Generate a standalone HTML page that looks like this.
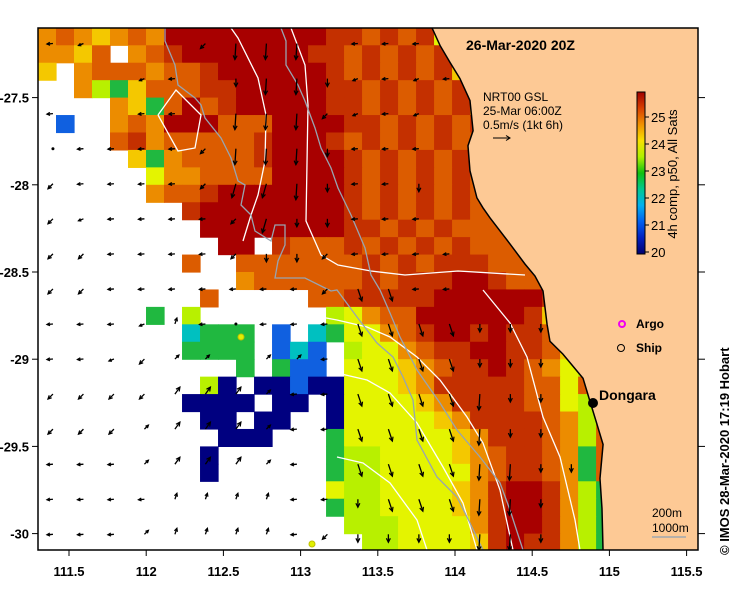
<!DOCTYPE html>
<html><head><meta charset="utf-8"><style>
html,body{margin:0;padding:0;background:#fff;}
svg{display:block;font-family:"Liberation Sans",sans-serif;}
</style></head><body>
<svg id="map" width="739" height="592" viewBox="0 0 739 592" xmlns="http://www.w3.org/2000/svg">
<defs>
<clipPath id="plotClip"><rect x="38" y="28" width="660" height="522"/></clipPath>
<linearGradient id="cbGrad" x1="0" y1="1" x2="0" y2="0">
<stop offset="0" stop-color="#000070"/><stop offset="0.1" stop-color="#0020c0"/><stop offset="0.2" stop-color="#0060f0"/>
<stop offset="0.3" stop-color="#00b0f0"/><stop offset="0.4" stop-color="#00c890"/><stop offset="0.5" stop-color="#10c010"/>
<stop offset="0.6" stop-color="#b0f000"/><stop offset="0.7" stop-color="#f8e000"/><stop offset="0.8" stop-color="#f09000"/>
<stop offset="0.9" stop-color="#d84000"/><stop offset="1" stop-color="#a00000"/>
</linearGradient>
</defs>
<g id="cells" clip-path="url(#plotClip)"></g>
<g id="contours" clip-path="url(#plotClip)"></g>
<g id="arrows" clip-path="url(#plotClip)"></g>
<g id="land" clip-path="url(#plotClip)"></g>
<g id="axes"></g>
<text x="466" y="50" font-size="14" font-weight="bold">26-Mar-2020 20Z</text>
<g font-size="12">
<text x="483" y="101">NRT00 GSL</text>
<text x="483" y="115">25-Mar 06:00Z</text>
<text x="483" y="129">0.5m/s (1kt 6h)</text>
<line x1="493" y1="138" x2="509" y2="138" stroke="#000" stroke-width="1"/>
<path d="M506,135.5 L510,138 L506,140.5" fill="none" stroke="#000"/>
</g>
<g>
<rect x="637" y="92" width="8" height="162" fill="url(#cbGrad)" stroke="#000" stroke-width="1"/>
<g id="cbTicks" font-size="13"></g>
<text transform="translate(677,174) rotate(-90)" text-anchor="middle" font-size="13">4h comp, p50, All Sats</text>
</g>
<g font-size="12" font-weight="bold">
<circle cx="622" cy="324" r="3" fill="none" stroke="#f000f0" stroke-width="2"/>
<text x="636" y="328">Argo</text>
<circle cx="621" cy="348" r="3.5" fill="none" stroke="#000" stroke-width="1"/>
<text x="636" y="352">Ship</text>
</g>
<g>
<circle cx="593" cy="403" r="5" fill="#000"/>
<text x="599" y="400" font-size="14" font-weight="bold">Dongara</text>
</g>
<circle cx="241" cy="337" r="3" fill="#e0f000" stroke="#c0c000"/>
<circle cx="312" cy="544" r="3" fill="#e0f000" stroke="#c0c000"/>
<g font-size="12">
<text x="652" y="517">200m</text>
<text x="652" y="532">1000m</text>
<line x1="652" y1="537" x2="686" y2="537" stroke="#a0a8b0" stroke-width="1.5"/>
</g>
<text transform="translate(729,555) rotate(-90)" font-size="13" font-weight="bold">© IMOS 28-Mar-2020 17:19 Hobart</text>
</svg>
<script>
// SST grid cells: lon from 111.2992 east in 0.1166 deg steps, lat from -27.10 south in 0.1 deg steps
const sstRows = [
"6765676|9999999|998|87878|4",
"6657.67|8999999|988|787878|5",
"5.67776|778|999999|8|787878|5",
"..63257|778|899999|8|8787878|6",
"....652|79|7|899999|8|8787878|64",
".1..676|999|777|9999|8|8787878|76",
"....786|77777|8999|8|7878787|77",
".....52|67777|8999|9|8787878|77",
"......4|66777|7999|9|8787878|77",
"......6|778|99999|99|8787878|777",
"........8|9999999|98|787878|7777",
".........|9999999|98|878787|7777",
"..........|99|.|8777|878787|87777",
"........7.|.7|7|7777|787878|887777",
"..........|.677|7777|878|8899|87777",
".........7|.....|778|8888|9999|99877",
"......2.3.|.....|.34|6779|9999|985",
"........c2|22.1.|c24|4678|9989|8875",
"........22|22.1c|1.3|4467|8899|8875",
"..........|.2.21|1.4|4456|7889|87643",
".........3|0.001|004|4456|8888|8774",
"........00|00.00|.04|4445|6888|87743",
".........0|0.00.|.04|4444|5688|88763",
"..........|000..|.24|4444|4568|88763",
".........0|.....|.23|3444|4567|88762",
".........0|.....|.23|3444|4467|88762",
"..........|.....|.43|3444|4568|99863|2",
"..........|.....|.23|3444|4568|99863|2",
"..........|.....|..3|3344|4468|99863|2",
"..........|.....|...|3344|4458|98863|2"
];
const sstColors = {"0":"#000080","1":"#1060e0","c":"#00c0c0","2":"#20b840","3":"#b8f000","4":"#e4f400","5":"#f4c800","6":"#ec8c00","7":"#dc5c00","8":"#c43000","9":"#a80000"};
const coastLon = [113.851,113.903,113.968,114.032,114.097,114.117,114.084,114.097,114.142,114.181,114.227,114.291,114.356,114.453,114.518,114.570,114.596,114.615,114.699,114.829,114.874,114.920,114.959,114.939,114.952,114.959];
const coastLat = [-27.10,-27.201,-27.299,-27.391,-27.517,-27.690,-27.776,-27.920,-28.075,-28.132,-28.190,-28.264,-28.339,-28.454,-28.523,-28.609,-28.799,-28.897,-28.971,-29.109,-29.241,-29.374,-29.489,-29.684,-29.856,-30.103];
const vecRows = [
"wv...dSSS.www......",
"...vw.sSSsvwvw.....",
"w..ww.SSSdvwv......",
"owwwwdSSSswww......",
"dwwwwdTTSswws......",
"dvwwwwdTsswww......",
"ddwwwwdssdwwww.....",
"ddwwwwwwwdeeww.....",
"wwwvxwowwweeeesss..",
"wwvdnn.nnweeeesss..",
"ddddNNNnwweeeeSss..",
"dddnNNNnwweeeeSss..",
"wwwnNNNnw.eeeeSSss.",
"wwwwxxxxwwseeeSSs..",
"wwwnxxxxwdssssSSs.."
];
const vecU = {w:-6,v:-5,d:-5,s:0,S:-1,T:-4,e:4,E:6,n:4,N:5,x:2,o:0,m:-3};
const vecV = {w:0.5,v:2,d:5,s:8,S:16,T:14,e:12,E:16,n:-4,N:-7,x:-6,o:0,m:2};
const xTicks = [111.5,112,112.5,113,113.5,114,114.5,115,115.5];
const xTickLabels = ["111.5","112","112.5","113","113.5","114","114.5","115","115.5"];
const yTicks = [-27.5,-28,-28.5,-29,-29.5,-30];
const yTickLabels = ["-27.5","-28","-28.5","-29","-29.5","-30"];
const cbTicks = [20,21,22,23,24,25];
const contour200 = [
[[231,28],[238,38],[258,78],[266,115],[265,161],[258,195],[251,215],[243,241]],
[[291,28],[305,65],[308,105],[306,221],[321,255],[338,265],[371,271],[405,275],[458,271],[525,275]],
[[483,290],[510,323],[527,357],[543,417],[560,457],[575,520],[580,550]],
[[283,310],[337,320],[367,327],[390,337],[417,357],[440,380],[467,417],[483,443],[500,490],[513,550]],
[[337,373],[367,380],[390,393],[417,423],[443,467],[463,503],[477,550]],
[[337,457],[363,463],[390,483],[417,520],[427,550]],
[[158,115],[176,90],[201,115],[195,148],[178,151],[158,115]]
];
const contour1000 = [
[[165,28],[165,41],[175,65],[178,85],[195,98],[201,105],[205,118],[221,138],[231,158],[238,181],[245,185],[241,205],[251,215],[255,231],[271,241],[275,225],[285,225],[285,245],[278,261],[275,278],[305,278],[331,291],[337,290],[357,317],[377,343],[393,357],[403,377],[413,400],[417,440],[437,477],[457,497],[470,523],[483,550]],
[[281,28],[286,41],[286,65],[298,85],[305,101],[315,128],[321,148],[331,168],[338,188],[351,215],[365,248],[371,275],[380,290],[390,313],[400,337],[417,370],[440,403],[457,430],[480,457],[500,483],[510,510],[523,550]]
];

const NS="http://www.w3.org/2000/svg";
function xOf(lon){return 69+(lon-111.5)*154.4;}
function yOf(lat){return 97.6+(-27.5-lat)*174.4;}
function cbY(t){return 252-(t-20)*27;}
function mk(tag,attrs,parent){const e=document.createElementNS(NS,tag);for(const k in attrs)e.setAttribute(k,attrs[k]);parent.appendChild(e);return e;}

const gc=document.getElementById('cells');
sstRows.forEach((row,j)=>{
  const s=row.replace(/\|/g,'').padEnd(42,'7');
  for(let i=0;i<s.length;i++){
    const ch=s[i]; if(!sstColors[ch]) continue;
    const x0=xOf(111.2992+0.1166*i), x1=xOf(111.2992+0.1166*(i+1));
    const y0=yOf(-27.10-0.1*j), y1=yOf(-27.10-0.1*(j+1));
    const r=mk('rect',{x:x0,y:y0,width:x1-x0+0.6,height:y1-y0+0.6,fill:sstColors[ch]},gc);
    
    
  }
});

const gct=document.getElementById('contours');
contour200.forEach(l=>{const p=mk('polyline',{points:l.map(q=>q.join(',')).join(' '),fill:'none',stroke:'#ffffff','stroke-width':1.3},gct);

});
contour1000.forEach(l=>{const p=mk('polyline',{points:l.map(q=>q.join(',')).join(' '),fill:'none',stroke:'#98a4b0','stroke-width':1.3},gct);

});

const ga=document.getElementById('arrows');
vecRows.forEach((row,j)=>{
  for(let k=0;k<row.length;k++){
    const c=row[k]; if(!(c in vecU)) continue;
    const lon=111.396+0.1975*k, lat=-27.19-0.201*j;
    const x=xOf(lon), y=yOf(lat), u=vecU[c], v=vecV[c];
    const g=mk('g',{},ga);
    
    
    if(u===0&&v===0){mk('circle',{cx:x,cy:y,r:1.5,fill:'#000'},g);continue;}
    const x2=x+u,y2=y+v;
    mk('line',{x1:x,y1:y,x2:x2,y2:y2,stroke:'#000','stroke-width':1.3},g);
    const L=Math.hypot(u,v),ux=u/L,uy=v/L,h=Math.min(4,L*0.5);
    mk('path',{d:`M${x2-ux*h-uy*h*0.5},${y2-uy*h+ux*h*0.5} L${x2},${y2} L${x2-ux*h+uy*h*0.5},${y2-uy*h-ux*h*0.5}`,fill:'none',stroke:'#000','stroke-width':1.2},g);
  }
});

const gl=document.getElementById('land');
const pts=coastLon.map((lo,i)=>xOf(lo)+','+yOf(coastLat[i]));
const landP=mk('polygon',{points:pts.join(' ')+' 700,552 700,26',fill:'#fdc995'},gl);


const coastL=mk('polyline',{points:pts.join(' '),fill:'none',stroke:'#000','stroke-width':1.5},gl);



const gx=document.getElementById('axes');
mk('rect',{x:38,y:28,width:660,height:522,fill:'none',stroke:'#000','stroke-width':1.5},gx);
xTicks.forEach((t,i)=>{const x=xOf(t);
  mk('line',{x1:x,y1:550,x2:x,y2:556,stroke:'#000'},gx);
  const tx=mk('text',{x:x,y:576,'text-anchor':'middle','font-size':13,'font-weight':'bold'},gx);
  tx.textContent=xTickLabels[i];
  
  });
yTicks.forEach((t,i)=>{const y=yOf(t);
  mk('line',{x1:32,y1:y,x2:38,y2:y,stroke:'#000'},gx);
  mk('line',{x1:698,y1:y,x2:705,y2:y,stroke:'#000'},gx);
  const tx=mk('text',{x:29,y:y+5,'text-anchor':'end','font-size':13,'font-weight':'bold'},gx);
  tx.textContent=yTickLabels[i];
  
  });

const gcb=document.getElementById('cbTicks');
cbTicks.forEach(t=>{const y=cbY(t);
  mk('line',{x1:645,y1:y,x2:649,y2:y,stroke:'#000'},gcb);
  const tx=mk('text',{x:651,y:y+5},gcb);
  tx.textContent=String(t);
  
  });
</script>
</body></html>
